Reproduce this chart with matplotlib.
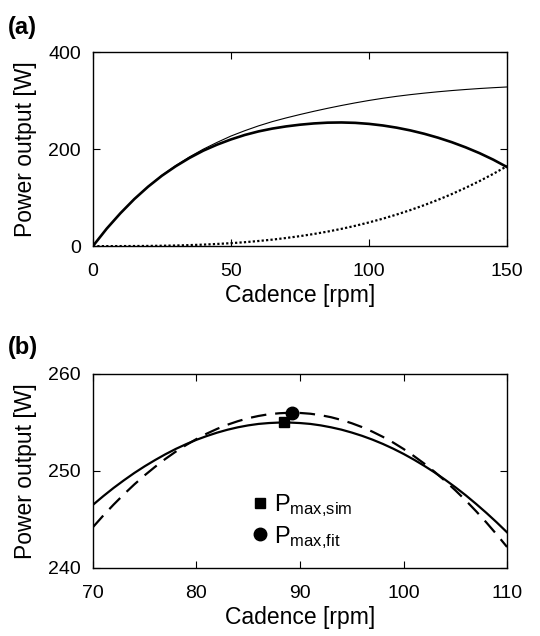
import matplotlib
matplotlib.use("Agg")
import matplotlib.pyplot as plt

plt.rcParams['font.family'] = ['Liberation Sans', 'DejaVu Sans']
plt.rcParams['mathtext.fontset'] = 'custom'
plt.rcParams['mathtext.rm'] = 'Liberation Sans'

# panel (a): power vs cadence (every 5 rpm)
cad_a = [0, 5, 10, 15, 20, 25, 30, 35, 40, 45, 50, 55, 60, 65, 70, 75,
         80, 85, 90, 95, 100, 105, 110, 115, 120, 125, 130, 135, 140, 145, 150]
p_thin = [0, 36, 68, 97, 123, 146, 166, 184, 200, 214, 227, 238, 248, 256.8, 264.4, 271.4,
          278.0, 284.2, 290.0, 295.4, 300.4, 304.9, 308.9, 312.4, 315.5, 318.3, 320.8, 323.0, 325.0, 326.7, 328.2]
p_loss = [0, 0, 0.1, 0.2, 0.4, 0.8, 1.3, 2.1, 3.1, 4.5, 6.1, 8.1, 10.6, 13.4, 16.8, 20.6,
          25.0, 30.0, 35.6, 41.9, 48.9, 56.6, 65.1, 74.4, 84.5, 95.5, 107.4, 120.3, 134.1, 149.0, 165]
p_net = [0, 36, 68, 97, 122.6, 145.2, 164.7, 181.9, 196.9, 209.3, 220.0, 229.2, 236.6, 242.4, 246.9, 250.4,
         253.0, 254.6, 255.0, 254.2, 252.1, 248.8, 244.3, 238.6, 231.7, 223.6, 214.3, 203.7, 191.8, 178.3, 163]

# panel (b): zoom around the maximum (every 1 rpm)
cad_b = list(range(70, 111))
p_sim = [246.50, 247.40, 248.25, 249.04, 249.79, 250.48, 251.12, 251.72, 252.27, 252.76,
         253.21, 253.60, 253.95, 254.25, 254.50, 254.70, 254.85, 254.94, 254.99, 254.99,
         254.94, 254.85, 254.70, 254.50, 254.26, 253.96, 253.62, 253.23, 252.79, 252.30,
         251.76, 251.17, 250.53, 249.85, 249.11, 248.33, 247.50, 246.61, 245.68, 244.70, 243.67]
p_fit = [244.20, 245.40, 246.53, 247.60, 248.61, 249.55, 250.42, 251.24, 251.99, 252.67,
         253.29, 253.85, 254.34, 254.77, 255.13, 255.44, 255.67, 255.85, 255.95, 256.00,
         255.98, 255.90, 255.75, 255.54, 255.26, 254.92, 254.52, 254.05, 253.52, 252.93,
         252.27, 251.54, 250.76, 249.91, 248.99, 248.01, 246.97, 245.86, 244.69, 243.45, 242.16]
pmax_sim = (88.5, 255.0)
pmax_fit = (89.2, 256.0)

fig = plt.figure(figsize=(5.4, 6.36), dpi=100)
ax1 = fig.add_axes([0.172, 0.613, 0.767, 0.305])
ax2 = fig.add_axes([0.172, 0.107, 0.767, 0.305])

ax1.plot(cad_a, p_thin, '-k', lw=0.8)
ax1.plot(cad_a, p_net, '-k', lw=1.9)
ax1.plot(cad_a, p_loss, 'k', lw=1.6, linestyle=(0, (1, 1)))
ax1.set_xlim(0, 150)
ax1.set_ylim(0, 400)
ax1.set_xticks([0, 50, 100, 150])
ax1.set_yticks([0, 200, 400])

ax2.plot(cad_b, p_sim, '-k', lw=1.6)
ax2.plot(cad_b, p_fit, 'k', lw=1.6, linestyle=(0, (7, 4)))
ax2.plot(*pmax_sim, 'ks', ms=7.5, label=r'$\mathregular{P_{max{,}sim}}$')
ax2.plot(*pmax_fit, 'ko', ms=9, label=r'$\mathregular{P_{max{,}fit}}$')
ax2.set_xlim(70, 110)
ax2.set_ylim(240, 260)
ax2.set_xticks([70, 80, 90, 100, 110])
ax2.set_yticks([240, 250, 260])
ax2.legend(loc='center', bbox_to_anchor=(0.50, 0.24), frameon=False, fontsize=17,
           handletextpad=0.1, labelspacing=0.2, handlelength=1.0, borderaxespad=0)

for ax in (ax1, ax2):
    ax.tick_params(direction='in', top=True, right=True, length=5, width=0.8,
                   labelsize=14)
    ax.tick_params(axis='x', pad=12)
    ax.tick_params(axis='y', pad=8.5)
    for s in ax.spines.values():
        s.set_linewidth(1.0)
    ax.set_xlabel('Cadence [rpm]', fontsize=16.5, labelpad=3)
    ax.set_ylabel('Power output [W]', fontsize=16.5, labelpad=8)

fig.text(0.015, 0.957, '(a)', fontsize=17, fontweight='bold', va='center')
fig.text(0.015, 0.453, '(b)', fontsize=17, fontweight='bold', va='center')

fig.savefig('out.png', dpi=100)
